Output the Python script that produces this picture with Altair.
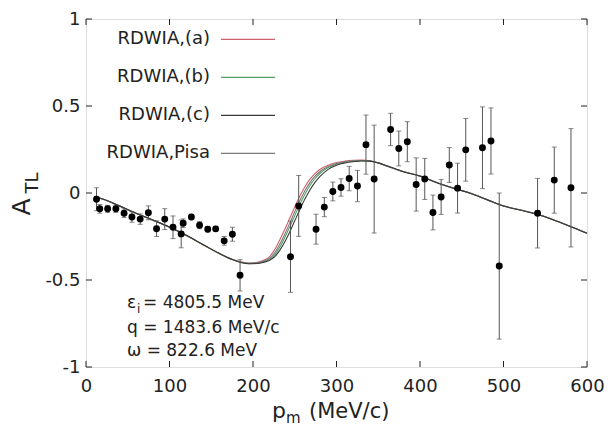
import altair as alt
import pandas as pd

# ---------------- data ----------------
PM = [12.6, 16.5, 25.9, 35.8, 45.6, 55.0, 64.9, 74.7, 84.5, 94.3, 104.2, 114.0, 116.4,
      126.2, 136.0, 145.8, 155.3, 165.5, 175.3, 184.5, 244.9, 254.7, 275.5, 285.4, 295.6,
      305.4, 315.2, 325.1, 335.3, 345.1, 364.8, 374.6, 384.8, 395.4, 405.7, 415.5, 425.3,
      435.1, 445.0, 454.8, 474.8, 485.0, 494.9, 540.8, 560.8, 580.8]
ATL = [-0.036, -0.091, -0.091, -0.091, -0.116, -0.138, -0.150, -0.114, -0.205, -0.150,
       -0.197, -0.235, -0.174, -0.138, -0.185, -0.208, -0.206, -0.275, -0.237, -0.473,
       -0.366, -0.074, -0.208, -0.081, 0.009, 0.032, 0.083, 0.040, 0.278, 0.080, 0.365,
       0.256, 0.295, 0.049, 0.081, -0.112, -0.023, 0.161, 0.028, 0.248, 0.260, 0.299,
       -0.420, -0.116, 0.074, 0.030]
ERR = [0.066, 0.025, 0.02, 0.02, 0.025, 0.03, 0.03, 0.04, 0.045, 0.06, 0.065, 0.08, 0.025,
       0.015, 0.02, 0.015, 0.015, 0.025, 0.04, 0.09, 0.205, 0.175, 0.086, 0.055, 0.054,
       0.05, 0.07, 0.09, 0.17, 0.31, 0.093, 0.10, 0.115, 0.153, 0.118, 0.10, 0.10, 0.10,
       0.143, 0.18, 0.235, 0.19, 0.42, 0.20, 0.19, 0.34]

CURVE_P = [10, 20, 40, 60, 80, 100, 120, 140, 160, 175, 185, 195, 205, 212, 220, 226, 232,
           238, 244, 250, 256, 262, 268, 274, 280, 290, 300, 310, 320, 330, 340, 350, 360,
           380, 400, 420, 440, 460, 480, 500, 520, 540, 560, 580, 600]
CURVE_A = [-0.022, -0.036, -0.075, -0.118, -0.156, -0.197, -0.244, -0.297, -0.349, -0.381,
           -0.396, -0.402, -0.398, -0.388, -0.365, -0.325, -0.270, -0.210, -0.145, -0.080,
           -0.018, 0.035, 0.078, 0.110, 0.135, 0.160, 0.175, 0.183, 0.188, 0.189, 0.185,
           0.172, 0.155, 0.122, 0.098, 0.060, 0.028, 0.000, -0.038, -0.075, -0.098, -0.121,
           -0.155, -0.192, -0.231]
CURVE_B = [-0.022, -0.035, -0.075, -0.117, -0.156, -0.197, -0.244, -0.297, -0.349, -0.382,
           -0.398, -0.406, -0.403, -0.396, -0.380, -0.355, -0.312, -0.257, -0.195, -0.130,
           -0.066, -0.008, 0.042, 0.082, 0.112, 0.146, 0.166, 0.177, 0.183, 0.186, 0.184,
           0.173, 0.157, 0.123, 0.097, 0.060, 0.028, -0.001, -0.038, -0.075, -0.098, -0.122,
           -0.155, -0.192, -0.232]
CURVE_C = [-0.021, -0.035, -0.074, -0.116, -0.155, -0.196, -0.243, -0.296, -0.348, -0.382,
           -0.399, -0.407, -0.405, -0.399, -0.387, -0.366, -0.330, -0.282, -0.224, -0.160,
           -0.096, -0.036, 0.016, 0.060, 0.094, 0.136, 0.160, 0.173, 0.180, 0.184, 0.183,
           0.173, 0.157, 0.122, 0.097, 0.059, 0.027, -0.001, -0.038, -0.075, -0.098, -0.122,
           -0.155, -0.192, -0.232]
CURVE_PISA = [-0.021, -0.035, -0.074, -0.117, -0.155, -0.196, -0.243, -0.296, -0.348, -0.381,
              -0.397, -0.404, -0.401, -0.393, -0.374, -0.343, -0.295, -0.237, -0.173, -0.108,
              -0.044, 0.012, 0.058, 0.095, 0.122, 0.152, 0.170, 0.180, 0.185, 0.187, 0.184,
              0.172, 0.156, 0.123, 0.098, 0.060, 0.028, 0.000, -0.037, -0.074, -0.097, -0.121,
              -0.154, -0.191, -0.230]

MODELS = ["RDWIA,(a)", "RDWIA,(b)", "RDWIA,(c)", "RDWIA,Pisa"]
COLORS = ["#d0606e", "#4fa062", "#383838", "#7a7a7a"]
XTICKS = [0, 100, 200, 300, 400, 500, 600]
YTICKS = [-1, -0.5, 0, 0.5, 1]

# ---------------- frames ----------------
pts = pd.DataFrame({"p": PM, "A": ATL, "e": ERR})
pts["lo"] = pts["A"] - pts["e"]
pts["hi"] = pts["A"] + pts["e"]

curves = pd.concat([
    pd.DataFrame({"p": CURVE_P, "A": vals, "model": m})
    for m, vals in zip(MODELS, [CURVE_A, CURVE_B, CURVE_C, CURVE_PISA])
])
one = pd.DataFrame({"k": [0]})

W, H = 501, 348
FONT = "DejaVu Sans"
XS = alt.Scale(domain=[0, 600], nice=False, zero=False)
YS = alt.Scale(domain=[-1, 1], nice=False, zero=False)
XAX = alt.Axis(values=XTICKS, ticks=False, domain=False, grid=False, title=None,
               labelFont=FONT, labelFontSize=18, labelColor="#222", labelPadding=10,
               labelFlush=False)
YAX = alt.Axis(values=YTICKS, ticks=False, domain=False, grid=False, title=None,
               labelFont=FONT, labelFontSize=18, labelColor="#222", labelPadding=6,
               labelExpr="'' + datum.value")


def X(f):
    return alt.X(f, type="quantitative", scale=XS, axis=XAX)


def Y(f):
    return alt.Y(f, type="quantitative", scale=YS, axis=YAX)


def txt(t, xx, yy, fs, align="left", baseline="alphabetic", angle=0):
    return (alt.Chart(one)
            .mark_text(text=t, align=align, baseline=baseline, angle=angle,
                       font=FONT, fontSize=fs, color="#222")
            .encode(x=alt.value(xx), y=alt.value(yy)))


layers = []

# curves, drawn (a), (b), Pisa, (c)
for i in [0, 1, 3, 2]:
    sub = curves[curves["model"] == MODELS[i]]
    layers.append(
        alt.Chart(sub).mark_line(color=COLORS[i], strokeWidth=1.1, interpolate="monotone")
        .encode(x=X("p"), y=Y("A"))
    )

# error bars
layers.append(alt.Chart(pts).mark_rule(color="#555", strokeWidth=1)
              .encode(x=X("p"), y=Y("lo"), y2="hi"))
layers.append(alt.Chart(pts).mark_tick(color="#555", orient="horizontal", size=5, thickness=1)
              .encode(x=X("p"), y=Y("lo")))
layers.append(alt.Chart(pts).mark_tick(color="#555", orient="horizontal", size=5, thickness=1)
              .encode(x=X("p"), y=Y("hi")))
layers.append(alt.Chart(pts).mark_point(filled=True, color="#000", size=48, opacity=1, shape="circle")
              .encode(x=X("p"), y=Y("A")))

# inward ticks
xt = pd.DataFrame({"v": XTICKS})
yt = pd.DataFrame({"v": YTICKS})
TL = 6
layers.append(alt.Chart(xt).mark_rule(color="#222").encode(x=X("v"), y=alt.value(H), y2=alt.value(H - TL)))
layers.append(alt.Chart(xt).mark_rule(color="#222").encode(x=X("v"), y=alt.value(0), y2=alt.value(TL)))
layers.append(alt.Chart(yt).mark_rule(color="#222").encode(y=Y("v"), x=alt.value(0), x2=alt.value(TL)))
layers.append(alt.Chart(yt).mark_rule(color="#222").encode(y=Y("v"), x=alt.value(W), x2=alt.value(W - TL)))

# legend (inside, top-left)
for i, m in enumerate(MODELS):
    yy = 20.3 + i * 38.0
    layers.append(txt(m, 124, yy, 18, align="right", baseline="middle"))
    layers.append(alt.Chart(one).mark_rule(color=COLORS[i], strokeWidth=1.2)
                  .encode(x=alt.value(135), x2=alt.value(189), y=alt.value(yy)))

# annotations
layers += [
    txt("\u03b5", 41, 289, 17),
    txt("i", 51, 293.5, 12),
    txt("= 4805.5 MeV", 57, 289, 17),
    txt("q = 1483.6 MeV/c", 41, 314, 17),
    txt("\u03c9 = 822.6 MeV", 41, 336.5, 17),
]

# x title  p_m (MeV/c)
layers += [
    txt("p", 186, 399, 22),
    txt("m", 200, 404, 15),
    txt("(MeV/c)", 223, 399, 21),
]

# y title  A_TL (rotated)
layers += [
    txt("A", -64, 188, 25, align="center", baseline="middle", angle=270),
    txt("TL", -53, 164, 18, align="center", baseline="middle", angle=270),
]

chart = alt.layer(*layers).properties(
    width=W, height=H,
    autosize=alt.AutoSizeParams(type="none"),
    padding={"left": 78, "top": 11, "right": 17, "bottom": 60},
).configure_view(stroke="#111", strokeWidth=1.3).configure(background="white")

chart.save("out.html", embed_options={"renderer": "svg", "actions": False})
